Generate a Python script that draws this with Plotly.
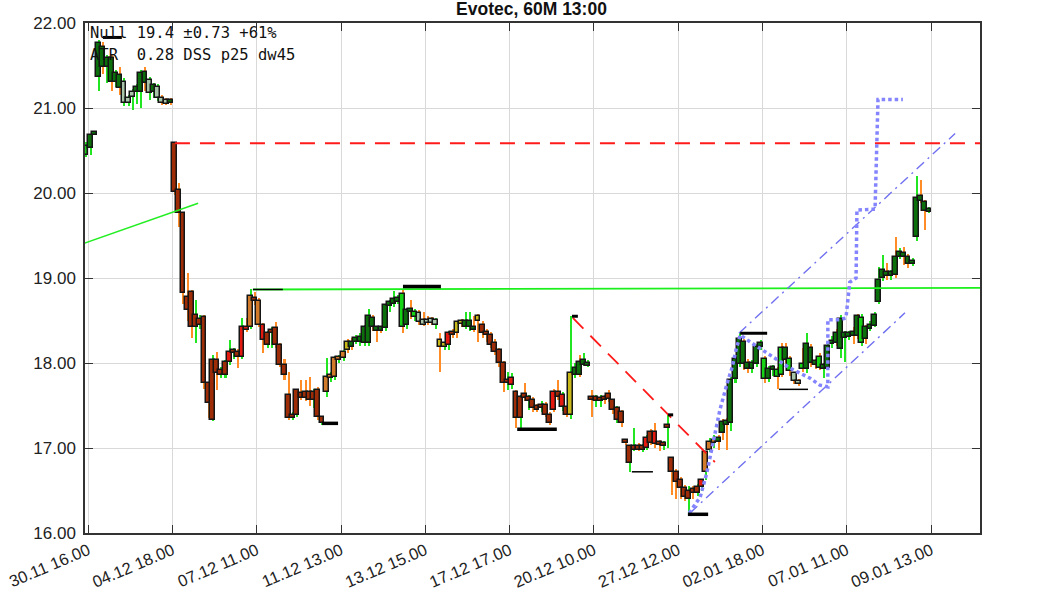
import plotly.graph_objects as go

# ---------------- data ----------------
tick_labels = ["30.11 16.00", "04.12 18.00", "07.12 11.00", "11.12 13.00", "13.12 15.00",
               "17.12 17.00", "20.12 10.00", "27.12 12.00", "02.01 18.00", "07.01 11.00",
               "09.01 13.00"]

opens = [20.45, 20.53, 20.69, 21.36, 21.72, 21.59, 21.59, 21.41, 21.39, 21.31,
         21.12, 21.19, 21.25, 21.41, 21.42, 21.33, 21.27, 21.25, 21.12, 21.09,
         21.10, 20.59, 20.04, 19.76, 18.78, 18.84, 18.56, 18.52, 18.54, 17.76,
         18.04, 18.04, 17.92, 18.01, 18.13, 18.15, 18.13, 18.42, 18.42, 18.79,
         18.76, 18.73, 18.45, 18.35, 18.39, 18.41, 18.21, 17.98, 17.62, 17.39,
         17.68, 17.65, 17.66, 17.66, 17.66, 17.68, 17.36, 17.84, 17.86, 18.06,
         18.07, 18.13, 18.25, 18.25, 18.29, 18.31, 18.42, 18.55, 18.53, 18.41,
         18.41, 18.68, 18.71, 18.75, 18.76, 18.81, 18.62, 18.64, 18.60, 18.59,
         18.51, 18.50, 18.51, 18.51, 18.27, 18.22, 18.35, 18.36, 18.48, 18.49,
         18.49, 18.49, 18.42, 18.55, 18.45, 18.36, 18.33, 18.24, 18.15, 18.00,
         17.80, 17.82, 17.66, 17.60, 17.63, 17.59, 17.56, 17.48, 17.50, 17.51,
         17.39, 17.66, 17.66, 17.62, 17.48, 17.88, 17.94, 18.01, 18.04, 18.00,
         17.60, 17.59, 17.59, 17.60, 17.64, 17.56, 17.47, 17.42, 17.09, 17.02,
         17.02, 17.01, 17.01, 17.12, 17.19, 17.19, 17.07, 17.06, 17.27, 16.88,
         16.72, 16.62, 16.53, 16.50, 16.52, 16.54, 16.62, 16.95, 17.07, 17.09,
         17.11, 17.31, 17.32, 17.80, 18.05, 18.28, 18.25, 18.00, 18.00, 18.19,
         18.24, 18.05, 17.93, 17.95, 17.92, 18.18, 18.18, 18.05, 17.88, 17.79,
         17.99, 18.22, 18.18, 18.01, 18.07, 17.97, 18.20, 18.25, 18.35, 18.52,
         18.35, 18.35, 18.37, 18.55, 18.53, 18.42, 18.44, 18.56, 18.98, 19.09,
         19.07, 19.07, 19.25, 19.31, 19.30, 19.25, 19.20, 19.94, 19.96, 19.89,
         19.81]
closes = [20.55, 20.68, 20.71, 21.76, 21.48, 21.48, 21.31, 21.31, 21.24, 21.06,
          21.06, 21.13, 21.19, 21.19, 21.29, 21.18, 21.19, 21.12, 21.06, 21.05,
          21.06, 20.01, 19.76, 18.82, 18.62, 18.42, 18.42, 18.45, 17.76, 17.53,
          17.33, 17.88, 17.86, 17.86, 18.01, 18.12, 18.07, 18.07, 18.39, 18.42,
          18.74, 18.45, 18.27, 18.21, 18.35, 18.21, 17.98, 17.86, 17.35, 17.35,
          17.39, 17.59, 17.59, 17.56, 17.56, 17.36, 17.29, 17.66, 17.82, 17.84,
          18.04, 18.06, 18.15, 18.19, 18.25, 18.25, 18.24, 18.24, 18.42, 18.39,
          18.39, 18.41, 18.68, 18.69, 18.72, 18.42, 18.45, 18.60, 18.54, 18.48,
          18.45, 18.48, 18.48, 18.45, 18.19, 18.20, 18.21, 18.34, 18.35, 18.47,
          18.42, 18.42, 18.39, 18.49, 18.35, 18.34, 18.21, 18.13, 18.00, 17.76,
          17.76, 17.74, 17.35, 17.35, 17.59, 17.56, 17.47, 17.46, 17.47, 17.39,
          17.29, 17.45, 17.60, 17.48, 17.39, 17.39, 17.86, 17.86, 17.98, 17.97,
          17.56, 17.56, 17.55, 17.56, 17.58, 17.45, 17.33, 17.29, 17.06, 16.82,
          16.98, 16.99, 16.99, 17.00, 17.06, 17.05, 17.04, 17.02, 17.24, 16.72,
          16.60, 16.53, 16.42, 16.40, 16.47, 16.47, 16.54, 16.72, 16.98, 17.06,
          17.08, 17.18, 17.27, 17.29, 17.81, 17.99, 17.99, 17.93, 17.93, 17.99,
          18.19, 17.81, 17.81, 17.92, 17.84, 17.86, 18.04, 17.91, 17.79, 17.75,
          17.93, 17.93, 18.00, 17.99, 17.94, 17.94, 17.94, 18.23, 18.24, 18.16,
          18.30, 18.31, 18.32, 18.32, 18.24, 18.28, 18.41, 18.44, 18.72, 19.00,
          19.02, 19.02, 19.04, 19.25, 19.25, 19.16, 19.16, 19.48, 19.91, 19.79,
          19.78]
highs = [20.60, 20.70, 20.72, 21.80, 21.78, 21.62, 21.62, 21.45, 21.48, 21.35,
         21.15, 21.22, 21.28, 21.45, 21.48, 21.36, 21.30, 21.28, 21.15, 21.12,
         21.12, 20.60, 20.12, 19.78, 19.06, 18.86, 18.74, 18.56, 18.56, 17.78,
         18.10, 18.13, 17.95, 18.04, 18.27, 18.18, 18.16, 18.53, 18.53, 18.87,
         18.84, 18.76, 18.47, 18.38, 18.42, 18.48, 18.24, 18.05, 17.89, 17.42,
         17.70, 17.80, 17.80, 17.84, 17.70, 17.72, 17.38, 18.06, 17.90, 18.08,
         18.10, 18.15, 18.28, 18.30, 18.33, 18.35, 18.45, 18.63, 18.56, 18.44,
         18.43, 18.70, 18.74, 18.85, 18.80, 18.86, 18.65, 18.74, 18.63, 18.62,
         18.60, 18.55, 18.54, 18.53, 18.35, 18.25, 18.38, 18.40, 18.50, 18.52,
         18.60, 18.60, 18.55, 18.58, 18.50, 18.40, 18.36, 18.28, 18.18, 18.02,
         17.90, 17.88, 17.68, 17.62, 17.76, 17.62, 17.60, 17.52, 17.55, 17.54,
         17.42, 17.70, 17.80, 17.66, 17.50, 18.55, 18.00, 18.10, 18.12, 18.03,
         17.68, 17.62, 17.62, 17.62, 17.68, 17.58, 17.50, 17.45, 17.11, 17.04,
         17.23, 17.06, 17.05, 17.15, 17.22, 17.29, 17.09, 17.08, 17.39, 16.90,
         16.75, 16.66, 16.56, 16.55, 16.55, 16.58, 16.64, 16.97, 17.12, 17.15,
         17.15, 17.34, 17.35, 17.83, 18.08, 18.35, 18.28, 18.05, 18.03, 18.22,
         18.27, 18.08, 17.96, 17.98, 17.95, 18.24, 18.24, 18.08, 17.90, 17.81,
         18.18, 18.35, 18.22, 18.05, 18.12, 18.00, 18.23, 18.32, 18.40, 18.56,
         18.38, 18.38, 18.42, 18.58, 18.58, 18.45, 18.50, 18.60, 19.13, 19.27,
         19.18, 19.10, 19.48, 19.35, 19.36, 19.28, 19.23, 20.20, 20.15, 19.92,
         19.84]
lows = [20.42, 20.45, 20.69, 21.20, 21.40, 21.30, 21.20, 21.25, 21.15, 21.02,
        21.02, 20.98, 21.05, 21.00, 21.20, 21.10, 21.12, 21.08, 21.03, 21.03,
        21.04, 19.98, 19.60, 18.70, 18.50, 18.30, 18.24, 18.40, 17.70, 17.35,
        17.32, 17.68, 17.82, 17.82, 17.98, 18.05, 17.94, 18.05, 18.36, 18.40,
        18.68, 18.42, 18.12, 18.18, 18.18, 18.18, 17.95, 17.80, 17.33, 17.33,
        17.36, 17.56, 17.55, 17.50, 17.47, 17.33, 17.27, 17.60, 17.78, 17.80,
        18.00, 18.02, 18.12, 18.15, 18.22, 18.20, 18.20, 18.20, 18.38, 18.25,
        18.35, 18.38, 18.60, 18.66, 18.70, 18.35, 18.40, 18.52, 18.50, 18.45,
        18.43, 18.45, 18.45, 18.40, 17.89, 18.15, 18.15, 18.30, 18.30, 18.42,
        18.40, 18.38, 18.36, 18.25, 18.30, 18.25, 18.18, 18.10, 17.95, 17.66,
        17.68, 17.70, 17.24, 17.24, 17.55, 17.45, 17.42, 17.42, 17.42, 17.36,
        17.27, 17.42, 17.57, 17.44, 17.36, 17.34, 17.82, 17.84, 17.96, 17.95,
        17.36, 17.48, 17.48, 17.52, 17.54, 17.40, 17.30, 17.25, 17.04, 16.72,
        16.96, 16.96, 16.95, 16.98, 17.03, 17.00, 16.96, 16.98, 17.00, 16.45,
        16.40, 16.40, 16.38, 16.22, 16.40, 16.44, 16.50, 16.62, 16.95, 17.00,
        16.98, 17.10, 16.98, 17.20, 17.77, 17.95, 17.92, 17.88, 17.88, 17.95,
        18.15, 17.77, 17.78, 17.85, 17.69, 17.84, 18.00, 17.85, 17.75, 17.73,
        17.90, 17.88, 17.95, 17.93, 17.92, 17.82, 17.92, 18.18, 18.20, 18.06,
        18.01, 18.27, 18.22, 18.28, 18.20, 18.22, 18.38, 18.42, 18.70, 18.97,
        18.98, 18.98, 19.00, 19.22, 19.15, 19.12, 19.14, 19.44, 19.88, 19.56,
        19.76]

body_codes = ("g G G G G G G G G l l l G G G l G l l l G "
              "R R R R R R R R R R R R R r R R r r o R "
              "o r R R R R R R R R R R R R R R o o o o "
              "o y G G G G G G G G G G G G g G G g l l "
              "l l l y y r R y y G G G y R R R R R R R "
              "r R R R R R R R R R r R r R y G G G G R "
              "R R R R R R R R R R R R r R r R R R R R "
              "R R R R R r o o o G G G G G G G G G G G "
              "g G G g g G g l l g G G G g G G G G G G "
              "G G G g G G G G G G G G G G G G G G G G").split()
wick_codes = ("g g g g o g o g o g g g g g o g g g o o o "
              "o o o o o g g o o g o g g g g o g o g o "
              "o o g g o o o o g g o o o g o g g g g g "
              "g o o g g g g o o o g g g g o g o g o o "
              "o o g o g g o o o g g o o o o o o o o g "
              "g o g o g o o g o o o o g o g g o g g o "
              "g g o o o g o o g g o g g o o o g g o o "
              "o o g o g g g g g o o o g g g o o g g g "
              "o g g o o o o o o o g o o o g g g o g g "
              "g o o g o g g g g o g o g o o g g o o g").split()

# horizontal marker segments (start bar, end bar, level)
seg_start = [4.0, 39.6, 56.0, 75.2, 102.3, 115.3, 129.5, 138.1, 142.8, 155.2, 164.4]
seg_end = [8.5, 46.7, 59.8, 84.2, 111.7, 116.7, 134.5, 139.3, 147.6, 161.6, 171.3]
seg_level = [21.83, 18.865, 17.29, 18.90, 17.22, 18.55, 16.72, 17.39, 16.22, 18.35, 17.69]

# overlay lines (bar index, value)
green_trend_x = [-0.3, 26.6]
green_trend_y = [19.41, 19.88]
green_level_x = [39.6, 213.0]
green_level_y = [18.865, 18.885]
red_level_x = [21.1, 213.0]
red_level_y = [20.585, 20.585]
red_diag_x = [115.5, 149.2]
red_diag_y = [18.53, 16.835]
chan_up_x = [154.9, 206.2]
chan_up_y = [18.35, 20.70]
chan_lo_x = [143.3, 194.3]
chan_lo_y = [16.235, 18.59]
dss_x = [143.1, 145.7, 147.3, 148.8, 150.4, 152.1, 153.3, 154.2, 155.2, 157.5,
         160.6, 163.9, 167.0, 169.4, 171.8, 174.1, 176.0, 176.0, 178.9, 180.3,
         181.2, 182.7, 182.9, 187.2, 187.9, 193.8]
dss_y = [16.235, 16.42, 16.71, 17.09, 17.45, 17.76, 17.95, 18.15, 18.33, 18.25,
         18.15, 18.04, 17.94, 17.88, 17.82, 17.74, 17.72, 18.51, 18.51, 18.53,
         18.95, 19.0, 19.8, 19.81, 21.1, 21.1]

# ---------------- styles ----------------
body_colors = {"R": "#9e2c06", "r": "#e41a10", "o": "#d07a2a", "y": "#c9b81a",
               "G": "#0b6f0b", "g": "#14d414", "l": "#a9c5a9"}
wick_colors = {"g": "#22e622", "o": "#ff8c26"}

n = len(opens)
assert all(len(a) == n for a in (closes, highs, lows, body_codes, wick_codes))
idx = list(range(n))

bases, heights = [], []
min_h = 0.04
for o, c in zip(opens, closes):
    lo, hi = min(o, c), max(o, c)
    if hi - lo < min_h:
        mid = (hi + lo) / 2
        lo, hi = mid - min_h / 2, mid + min_h / 2
    bases.append(lo)
    heights.append(hi - lo)

fig = go.Figure()

# wicks (drawn as thin bars so that the bodies layer on top of them)
fig.add_trace(go.Bar(x=[i + 0.15 for i in idx], y=[h - l for h, l in zip(highs, lows)], base=lows,
                     width=0.36, marker=dict(color=[wick_colors[c] for c in wick_codes],
                                             line=dict(width=0)),
                     hoverinfo="skip", showlegend=False))

# bodies
fig.add_trace(go.Bar(x=idx, y=heights, base=bases, width=1.15,
                     marker=dict(color=[body_colors[c] for c in body_codes],
                                 line=dict(color="#151515", width=1.5)),
                     showlegend=False))

# overlay lines
fig.add_trace(go.Scatter(x=green_trend_x, y=green_trend_y, mode="lines",
                         line=dict(color="#22ee22", width=1.5), showlegend=False))
fig.add_trace(go.Scatter(x=green_level_x, y=green_level_y, mode="lines",
                         line=dict(color="#1cf01c", width=1.8), showlegend=False))
fig.add_trace(go.Scatter(x=red_level_x, y=red_level_y, mode="lines",
                         line=dict(color="#ff1a1a", width=1.8, dash="15px,10px"), showlegend=False))
fig.add_trace(go.Scatter(x=red_diag_x, y=red_diag_y, mode="lines",
                         line=dict(color="#ff1a1a", width=1.8, dash="15px,10px"), showlegend=False))
for cx, cy in ((chan_up_x, chan_up_y), (chan_lo_x, chan_lo_y)):
    fig.add_trace(go.Scatter(x=cx, y=cy, mode="lines",
                             line=dict(color="#7070f0", width=1.4, dash="10px,5px,2px,5px"),
                             showlegend=False))
fig.add_trace(go.Scatter(x=dss_x, y=dss_y, mode="lines",
                         line=dict(color="#8484ff", width=3.5, dash="3.5px,3px"), showlegend=False))

# marker segments
widths = [3, 1.5, 3.5, 3.5, 3.5, 3, 1.5, 3, 3.5, 3, 1.5]
for s, e, v, w in zip(seg_start, seg_end, seg_level, widths):
    fig.add_trace(go.Scatter(x=[s, e], y=[v, v], mode="lines",
                             line=dict(color="#000000", width=w), showlegend=False))

tickvals = [0.5 + 20 * k for k in range(len(tick_labels))]

fig.update_layout(
    width=1063, height=591,
    margin=dict(l=85, r=83, t=23, b=58, autoexpand=False),
    paper_bgcolor="white", plot_bgcolor="white",
    barmode="overlay", bargap=0,
    title=dict(text="<b>Evotec, 60M 13:00</b>", x=0.5, xanchor="center", y=0.985, yanchor="middle",
               font=dict(family="Liberation Sans, Arial", size=17.5, color="#111")),
    font=dict(family="Liberation Sans, Arial", size=16, color="#222"),
    xaxis=dict(range=[-0.24, 212.1], tickvals=tickvals, ticktext=tick_labels, tickangle=-23,
               automargin=False,
               showgrid=True, gridcolor="#d9d9d9", gridwidth=1, zeroline=False,
               showline=True, linecolor="#333", linewidth=1.5, mirror="ticks",
               ticks="inside", ticklen=8, tickcolor="#333", tickwidth=1,
               tickfont=dict(size=16.5, color="#222")),
    yaxis=dict(range=[16, 22], dtick=1, tickformat=".2f", automargin=False,
               showgrid=True, gridcolor="#d9d9d9", gridwidth=1, zeroline=False,
               showline=True, linecolor="#333", linewidth=1.5, mirror="ticks",
               ticks="inside", ticklen=8, tickcolor="#333", tickwidth=1,
               tickfont=dict(size=17, color="#222"), ticklabelstandoff=4),
    annotations=[
        dict(text="Null 19.4 ±0.73 +61%", xref="paper", yref="paper", x=0.0034, y=0.980,
             xanchor="left", yanchor="middle", showarrow=False,
             font=dict(family="DejaVu Sans Mono", size=15.5, color="#111")),
        dict(text="ATR  0.28 DSS p25 dw45", xref="paper", yref="paper", x=0.0034, y=0.937,
             xanchor="left", yanchor="middle", showarrow=False,
             font=dict(family="DejaVu Sans Mono", size=15.5, color="#111")),
    ],
)

fig.write_html("out.html", config={"displayModeBar": False})
with open("out.html", "r", encoding="utf-8") as f:
    html = f.read()
html = html.replace("<head>", "<head><style>html,body{margin:0;padding:0;overflow:hidden;}</style>", 1)
with open("out.html", "w", encoding="utf-8") as f:
    f.write(html)
